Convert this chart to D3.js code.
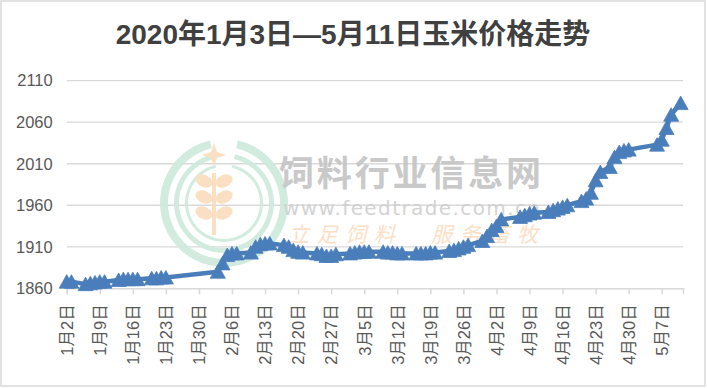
<!DOCTYPE html>
<html>
<head>
<meta charset="utf-8">
<script src="https://cdn.jsdelivr.net/npm/d3@7"></script>
<style>
  body { margin: 0; background: #fff; }
  svg { display: block; }
</style>
</head>
<body>
<div class="chart"></div>
<script>
// trading days (2020) and corn price
var dates = [
  "01-02","01-03","01-06","01-07","01-08","01-09","01-10","01-13","01-14","01-15","01-16","01-17",
  "01-20","01-21","01-22","01-23",
  "02-03","02-04","02-05","02-06","02-07","02-10","02-11","02-12","02-13","02-14",
  "02-17","02-18","02-19","02-20","02-21","02-24","02-25","02-26","02-27","02-28",
  "03-02","03-03","03-04","03-05","03-06","03-09","03-10","03-11","03-12","03-13",
  "03-16","03-17","03-18","03-19","03-20","03-23","03-24","03-25","03-26","03-27","03-30","03-31",
  "04-01","04-02","04-03","04-07","04-08","04-09","04-10","04-13","04-14","04-15","04-16","04-17",
  "04-20","04-21","04-22","04-23","04-24","04-26","04-27","04-28","04-29","04-30",
  "05-06","05-07","05-08","05-09","05-11"
];
var prices = [
  1868,1868,1865,1866,1867,1868,1868,1870,1871,1871,1871,1871,
  1872,1872,1873,1873,
  1880,1890,1900,1902,1902,1903,1910,1913,1914,1914,
  1912,1910,1906,1904,1903,1902,1901,1899,1899,1901,
  1902,1903,1904,1904,1904,1904,1903,1903,1902,1902,
  1902,1902,1902,1903,1903,1905,1906,1908,1910,1912,1917,1923,
  1930,1935,1943,1946,1948,1950,1951,1952,1954,1956,1958,1960,
  1965,1968,1975,1990,2000,2006,2018,2024,2026,2027,
  2033,2039,2053,2069,2083
];
var tickDates = ["01-02","01-09","01-16","01-23","01-30","02-06","02-13","02-20","02-27","03-05",
  "03-12","03-19","03-26","04-02","04-09","04-16","04-23","04-30","05-07"];
var yTicks = [1860, 1910, 1960, 2010, 2060, 2110];
var title = "2020年1月3日—5月11日玉米价格走势";

var parse = d3.timeParse("%Y-%m-%d");
var toDate = function(s) { return parse("2020-" + s); };
var data = dates.map(function(d, i) { return { date: toDate(d), price: prices[i] }; });

var svgWidth = 707, svgHeight = 388;
var svg = d3.select(".chart").append("svg")
  .attr("width", svgWidth)
  .attr("height", svgHeight);

// chart border
svg.append("rect")
  .attr("x", 1).attr("y", 1)
  .attr("width", 704).attr("height", 385)
  .attr("fill", "#fff")
  .attr("stroke", "#d9d9d9")
  .attr("stroke-width", 1.5);

// scales
var x = d3.scaleTime()
  .domain([toDate("01-02"), d3.timeHour.offset(toDate("05-11"), 12)])
  .range([66.7, 683]);
var y = d3.scaleLinear()
  .domain([1860, 2110])
  .range([288.3, 80.7]);

// title
svg.append("text")
  .attr("x", 353).attr("y", 44)
  .attr("text-anchor", "middle")
  .attr("font-family", "'Liberation Sans', 'Noto Sans CJK SC', sans-serif")
  .attr("font-weight", "bold")
  .attr("font-size", 28)
  .attr("fill", "#404040")
  .text(title);

// gridlines
svg.append("g").selectAll("line")
  .data(yTicks.slice(1))
  .enter().append("line")
  .attr("x1", x.range()[0]).attr("x2", x.range()[1])
  .attr("y1", d => y(d)).attr("y2", d => y(d))
  .attr("stroke", "#d9d9d9")
  .attr("stroke-width", 1.3);

// y labels
var yAxis = d3.axisLeft(y).tickValues(yTicks).tickFormat(d3.format("d")).tickSize(0).tickPadding(14);
var gy = svg.append("g")
  .attr("transform", "translate(" + x.range()[0] + ",0)")
  .call(yAxis);
gy.select(".domain").remove();
gy.selectAll("text")
  .attr("font-family", "'Liberation Sans', sans-serif")
  .attr("font-size", 16.5)
  .attr("fill", "#595959");

// watermark
var wm = svg.append("g").attr("opacity", 0.9);
var ring = d3.arc();
var logo = wm.append("g").attr("transform", "translate(224,203)");
[[56, 64], [45, 50], [36, 39]].forEach(function(r) {
  logo.append("path")
    .attr("d", ring({ innerRadius: r[0], outerRadius: r[1], startAngle: 0.22, endAngle: 2 * Math.PI - 0.22 }))
    .attr("fill", "#cdebdc");
});
var wheat = logo.append("g").attr("fill", "#fbdcbd");
wheat.append("rect").attr("x", -12).attr("y", -30).attr("width", 4).attr("height", 62);
[-22, -6, 10].forEach(function(yy) {
  wheat.append("ellipse").attr("cx", -20).attr("cy", yy).attr("rx", 9).attr("ry", 6).attr("transform", "rotate(25,-20," + yy + ")");
  wheat.append("ellipse").attr("cx", 0).attr("cy", yy).attr("rx", 9).attr("ry", 6).attr("transform", "rotate(-25,0," + yy + ")");
});
wheat.append("path").attr("d", "M-10,-60 L-7,-51 L2,-48 L-7,-45 L-10,-36 L-13,-45 L-22,-48 L-13,-51 Z");

wm.append("text")
  .attr("x", 279).attr("y", 186)
  .attr("font-family", "'Noto Sans CJK SC', sans-serif")
  .attr("font-size", 35)
  .attr("font-weight", "bold")
  .attr("fill", "#c4c4c4")
  .attr("textLength", 262)
  .text("饲料行业信息网");
wm.append("text")
  .attr("x", 283).attr("y", 215)
  .attr("font-family", "'DejaVu Sans', sans-serif")
  .attr("font-size", 20)
  .attr("fill", "#cfcfcf")
  .attr("textLength", 257)
  .text("www.feedtrade.com.cn");
wm.append("text")
  .attr("x", 288).attr("y", 242)
  .attr("font-family", "'Noto Sans CJK SC', sans-serif")
  .attr("font-size", 21)
  .attr("font-style", "italic")
  .attr("fill", "#fcdcc0")
  .attr("textLength", 250)
  .text("立足饲料　服务畜牧");

// x axis
var xAxis = d3.axisBottom(x)
  .tickValues(tickDates.map(toDate))
  .tickFormat(d3.timeFormat("%-m月%-d日"))
  .tickSize(6);
var gx = svg.append("g")
  .attr("transform", "translate(0," + y(1860) + ")")
  .call(xAxis);
gx.select(".domain").attr("stroke", "#d9d9d9").attr("stroke-width", 1.5);
gx.selectAll(".tick line").attr("stroke", "#d9d9d9").attr("stroke-width", 1.5);
gx.selectAll("text")
  .attr("transform", "rotate(-90)")
  .attr("x", -16).attr("y", 0)
  .attr("dy", "0.35em")
  .style("text-anchor", "end")
  .attr("font-family", "'Liberation Sans', 'Noto Sans CJK SC', sans-serif")
  .attr("font-size", 16.5)
  .attr("fill", "#595959");

// price line
var line = d3.line()
  .x(d => x(d.date))
  .y(d => y(d.price));
svg.append("path")
  .datum(data)
  .attr("d", line)
  .attr("fill", "none")
  .attr("stroke", "#4a7ebb")
  .attr("stroke-width", 4.5)
  .attr("stroke-linejoin", "round");

// triangle markers
svg.append("g").selectAll("path")
  .data(data)
  .enter().append("path")
  .attr("transform", d => "translate(" + x(d.date) + "," + y(d.price) + ")")
  .attr("d", "M0,-7 L7.5,6.5 L-7.5,6.5 Z")
  .attr("fill", "#4a7ebb")
  .attr("stroke", "#4a7ebb")
  .attr("stroke-width", 0.8);
</script>
</body>
</html>
